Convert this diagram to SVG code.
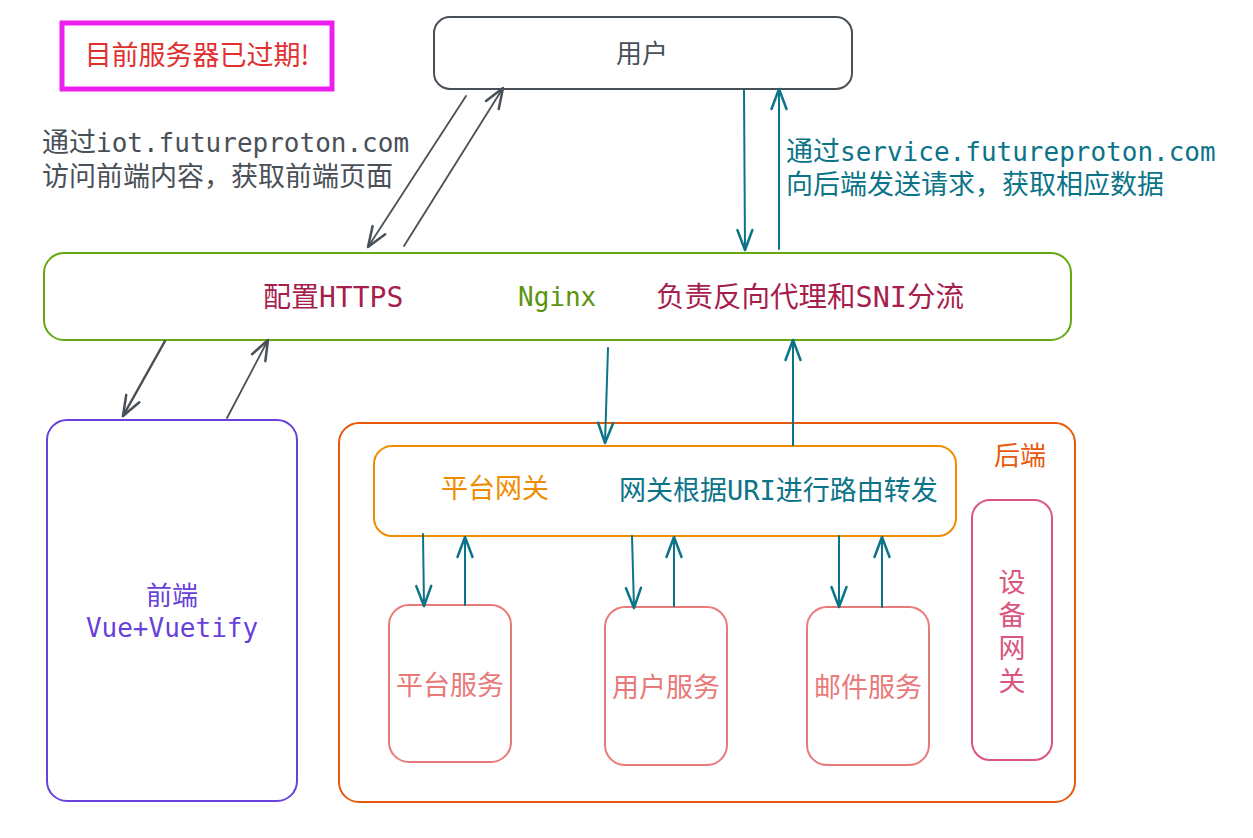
<svg xmlns="http://www.w3.org/2000/svg" width="1253" height="838" viewBox="0 0 1253 838">
<defs>
<style>
.mono{font-family:"DejaVu Sans Mono","Liberation Mono","Noto Sans CJK SC",monospace;}
.cjk{font-family:"Noto Sans CJK SC","Noto Sans",sans-serif;}
.box{fill:#ffffff;stroke-width:2;}
.cg{stroke:#495057;fill:none;stroke-linecap:round;}
.ct{stroke:#0c7489;fill:none;stroke-width:2;stroke-linecap:round;}
</style>
<marker id="ag" markerUnits="userSpaceOnUse" markerWidth="30" markerHeight="30" viewBox="-20 -10 24 20" refX="0" refY="0" orient="auto">
<path d="M-16 -6 L0 0 L-16 6" fill="none" stroke="#495057" stroke-width="2" stroke-linecap="round" stroke-linejoin="round"/>
</marker>
<marker id="at" markerUnits="userSpaceOnUse" markerWidth="30" markerHeight="30" viewBox="-20 -10 24 20" refX="0" refY="0" orient="auto">
<path d="M-16 -6 L0 0 L-16 6" fill="none" stroke="#0c7489" stroke-width="2" stroke-linecap="round" stroke-linejoin="round"/>
</marker>
</defs>
<rect width="1253" height="838" fill="#ffffff"/>

<g id="expired">
<rect x="62" y="23" width="270" height="66" fill="#ffffff" stroke="#ee1eee" stroke-width="5"/>
<text x="197" y="65" class="cjk" font-size="27" fill="#e03131" text-anchor="middle">目前服务器已过期!</text>
</g>

<g id="user">
<rect class="box" x="434" y="17" width="418" height="72" rx="16" stroke="#495057"/>
<text x="642" y="63" class="cjk" font-size="26" fill="#495057" text-anchor="middle">用户</text>
</g>

<g id="label-iot">
<text class="mono" font-size="26" fill="#495057"><tspan x="42" y="152" font-size="27">通过</tspan><tspan>iot.futureproton.com</tspan><tspan x="42" y="186" font-size="27">访问前端内容，获取前端页面</tspan></text>
</g>

<g id="label-service">
<text class="mono" font-size="26" fill="#0c7489"><tspan x="786" y="161" font-size="27">通过</tspan><tspan>service.futureproton.com</tspan><tspan x="786" y="194" font-size="27">向后端发送请求，获取相应数据</tspan></text>
</g>

<g id="nginx">
<rect class="box" x="44" y="253" width="1027" height="87" rx="20" stroke="#66a80f"/>
<text x="263" y="307" class="mono" font-size="28" fill="#a61e4d">配置HTTPS</text>
<text x="518" y="306" class="mono" font-size="26" fill="#5c940d">Nginx</text>
<text x="656" y="307" class="mono" font-size="28.5" fill="#a61e4d">负责反向代理和SNI分流</text>
</g>

<g id="frontend">
<rect class="box" x="47" y="420" width="250" height="381" rx="20" stroke="#6741d9"/>
<text class="mono" font-size="26" fill="#6741d9" text-anchor="middle"><tspan x="172" y="605">前端</tspan><tspan x="172" y="637">Vue+Vuetify</tspan></text>
</g>

<g id="backend">
<rect class="box" x="339" y="423" width="736" height="379" rx="20" stroke="#e8590c"/>
<text x="1020" y="465" class="cjk" font-size="26" fill="#e8590c" text-anchor="middle">后端</text>
</g>

<g id="gateway">
<rect class="box" x="374" y="446" width="582" height="90" rx="18" stroke="#f08c00"/>
<text x="495" y="498" class="cjk" font-size="27" fill="#f08c00" text-anchor="middle">平台网关</text>
<text x="619" y="500" class="mono" font-size="27" fill="#0c7489">网关根据URI进行路由转发</text>
</g>

<g id="svc-platform">
<rect class="box" x="389" y="605" width="122" height="157" rx="20" stroke="#e87a7a"/>
<text x="450" y="695" class="cjk" font-size="27" fill="#e87a7a" text-anchor="middle">平台服务</text>
</g>

<g id="svc-user">
<rect class="box" x="605" y="607" width="122" height="158" rx="20" stroke="#e87a7a"/>
<text x="666" y="697" class="cjk" font-size="27" fill="#e87a7a" text-anchor="middle">用户服务</text>
</g>

<g id="svc-mail">
<rect class="box" x="807" y="607" width="122" height="158" rx="20" stroke="#e87a7a"/>
<text x="868" y="697" class="cjk" font-size="27" fill="#e87a7a" text-anchor="middle">邮件服务</text>
</g>

<g id="device-gateway">
<rect class="box" x="972" y="500" width="80" height="260" rx="18" stroke="#d9567c"/>
<text x="1012" y="568" class="cjk" font-size="27" fill="#d9567c" writing-mode="vertical-rl" letter-spacing="6">设备网关</text>
</g>

<g id="connectors">
<line class="cg" stroke-width="1.8" x1="466" y1="96" x2="368" y2="247" marker-end="url(#ag)"/>
<line class="cg" stroke-width="1.8" x1="404" y1="246" x2="503" y2="88" marker-end="url(#ag)"/>
<line class="ct" x1="744" y1="90" x2="745" y2="250" marker-end="url(#at)"/>
<line class="ct" x1="779" y1="249" x2="779" y2="89" marker-end="url(#at)"/>
<line class="cg" stroke-width="2.5" x1="165" y1="341" x2="123" y2="416" marker-end="url(#ag)"/>
<line class="cg" stroke-width="1.8" x1="227" y1="418" x2="268" y2="340" marker-end="url(#ag)"/>
<line class="ct" x1="608" y1="348" x2="605" y2="443" marker-end="url(#at)"/>
<line class="ct" x1="793" y1="445" x2="793" y2="340" marker-end="url(#at)"/>
<line class="ct" x1="423" y1="534" x2="424" y2="606" marker-end="url(#at)"/>
<line class="ct" x1="465" y1="605" x2="465" y2="537" marker-end="url(#at)"/>
<line class="ct" x1="632" y1="536" x2="634" y2="608" marker-end="url(#at)"/>
<line class="ct" x1="674" y1="606" x2="674" y2="537" marker-end="url(#at)"/>
<line class="ct" x1="839" y1="536" x2="839" y2="607" marker-end="url(#at)"/>
<line class="ct" x1="882" y1="607" x2="882" y2="537" marker-end="url(#at)"/>
</g>
</svg>
